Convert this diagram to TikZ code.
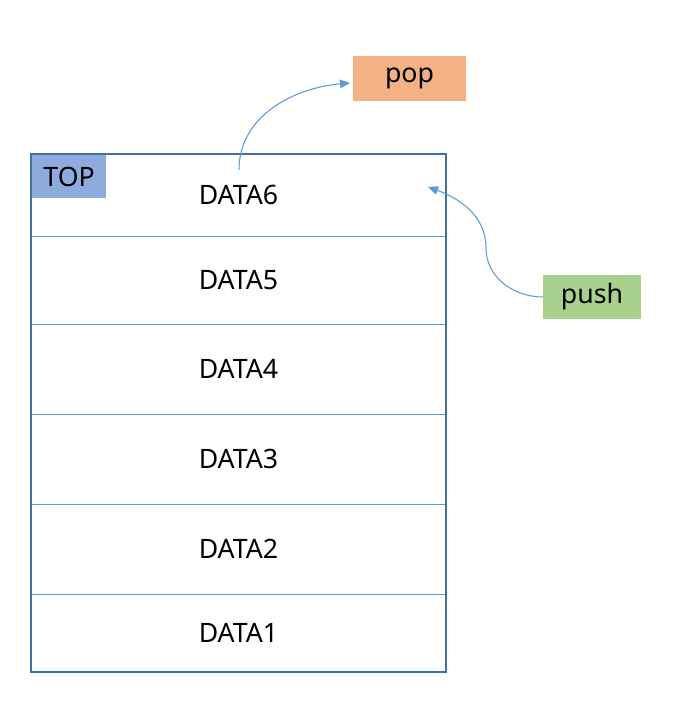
\documentclass[tikz,border=0pt]{standalone}
\usepackage{fontspec}
\setmainfont{Noto Sans}
\usepackage{xcolor}
\usepackage{tikz}
\usetikzlibrary{arrows.meta}

\definecolor{frameBlue}{HTML}{41719C}
\definecolor{lineBlue}{HTML}{5B9BD5}
\definecolor{topBlue}{HTML}{8FAADC}
\definecolor{popOrange}{HTML}{F4B183}
\definecolor{pushGreen}{HTML}{A9D18E}

\tikzset{
	row/.style = {draw = lineBlue, line width = 0.45pt, minimum width = 8.3cm, inner sep = 0, outer sep = 0},
	stackframe/.style = {draw = frameBlue, line width = 1.2pt, minimum width = 8.3cm, minimum height = 10.36cm, inner sep = 0, outer sep = 0},
	tag/.style = {inner sep = 0, outer sep = 0},
	flow/.style = {draw = lineBlue, line width = 0.6pt, -{Triangle[length = 2mm, width = 1.7mm]}}
}

\begin{document}
\begin{tikzpicture}[x = 0.02cm, y = -0.02cm, font = \fontsize{15.2}{18}\selectfont]
					\useasboundingbox (0,0) rectangle (675,726);

					\newcommand{\drawStackRow}[4]
					{
						\node [row, minimum height = #3] (#1) at (238.5,#2) {#4}
					}

					\begin{scope}
						\drawStackRow{dataSix}{195}{1.64cm}{DATA6};
						\drawStackRow{dataFive}{280}{1.76cm}{DATA5};
						\drawStackRow{dataFour}{369}{1.8cm}{DATA4};
						\drawStackRow{dataThree}{459}{1.8cm}{DATA3};
						\drawStackRow{dataTwo}{549}{1.8cm}{DATA2};
						\drawStackRow{dataOne}{633}{1.56cm}{DATA1};
						\node [stackframe] (stack) at (238.5,413) {};
						\node [tag, fill = topBlue, anchor = north west, minimum width = 1.48cm, minimum height = 0.86cm] (top) at ([xshift = 0.6pt, yshift = -0.6pt]stack.north west) {TOP};
					\end{scope}

					\begin{scope}
						\node [tag, fill = popOrange, minimum width = 2.26cm, minimum height = 0.9cm] (pop) at (409.5,78.5) {pop};
						\node [tag, fill = pushGreen, minimum width = 1.96cm, minimum height = 0.88cm] (push) at (592,297) {push};
						\coordinate (popStart) at (239,170);
						\coordinate (popEnd) at (350,83);
						\coordinate (pushBend) at (486,248);
						\coordinate (pushEnd) at (428,187);
						\draw [flow] (popStart) to [out = 90, in = 185] (popEnd);
						\draw [flow] (push.west) to [out = 180, in = -90] (pushBend) to [out = 90, in = -20] (pushEnd);
					\end{scope}
				\end{tikzpicture}
\end{document}
